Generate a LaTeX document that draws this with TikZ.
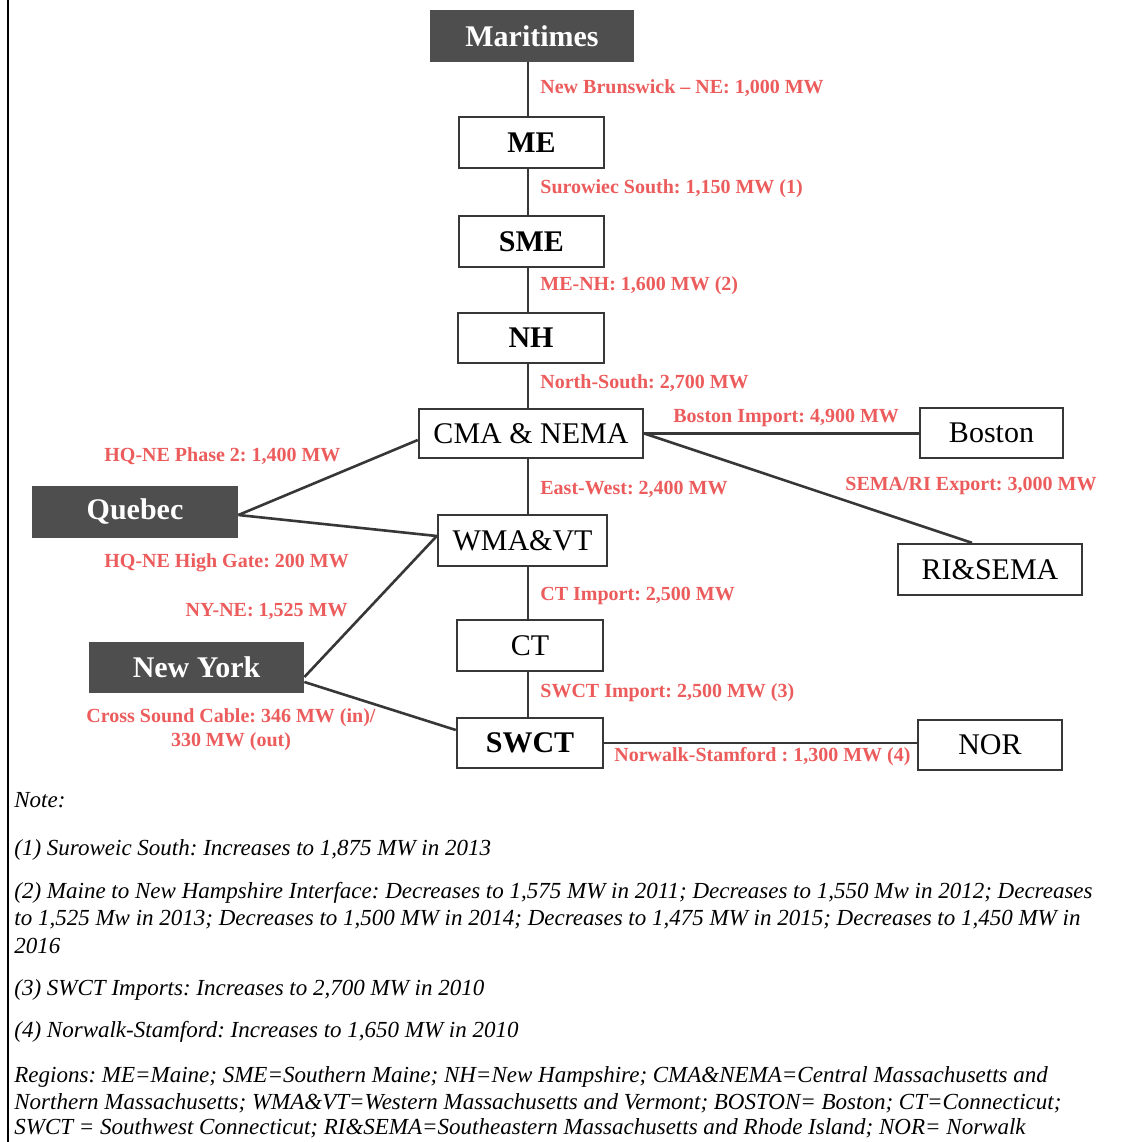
\documentclass[tikz,border=0pt]{standalone}
\usepackage{fontspec}
\setmainfont{Liberation Serif}
\usetikzlibrary{calc}
\frenchspacing
\definecolor{darkbox}{RGB}{78,78,78}
\definecolor{linecol}{RGB}{55,55,55}
\definecolor{lblred}{RGB}{236,92,92}
\tikzset{
  regbox/.style={draw=linecol, line width=1.2pt, fill=white, inner sep=0pt, text=black,
    font=\fontsize{15}{18}\selectfont},
  darkregion/.style={fill=darkbox, draw=none, inner sep=0pt, text=white,
    font=\fontsize{15}{18}\selectfont\bfseries},
  lbl/.style={text=lblred, inner sep=0pt, font=\fontsize{10}{12}\selectfont\bfseries},
  link/.style={draw=linecol, line width=1.3pt},
  notetxt/.style={anchor=west, inner sep=0pt, text=black, font=\fontsize{11.5}{13}\selectfont\itshape}
}
\begin{document}
\begin{tikzpicture}[x=0.5pt,y=-0.5pt]
\useasboundingbox (0,0) rectangle (1123,1142);
\fill[white] (0,0) rectangle (1123,1142);
\draw[line width=0.8pt, black] (8,0) -- (8,1142);

\coordinate (spine) at (528,0);

% regions
\node[darkregion, minimum width=102pt, minimum height=26pt] (mar) at (532,36) {Maritimes};
\node[regbox, minimum width=72.5pt, minimum height=25.5pt] (me) at (531.5,142.5) {\bfseries ME};
\node[regbox, minimum width=72.5pt, minimum height=25.5pt] (sme) at (531.5,241.5) {\bfseries SME};
\node[regbox, minimum width=73pt, minimum height=25pt] (nh) at (531,338) {\bfseries NH};
\node[regbox, minimum width=112pt, minimum height=24.5pt] (cma) at (531,433.5) {CMA \& NEMA};
\node[regbox, minimum width=84.5pt, minimum height=25.5pt] (wma) at (522.5,540.5) {WMA\&VT};
\node[regbox, minimum width=73pt, minimum height=25.5pt] (ct) at (530,645.5) {CT};
\node[regbox, minimum width=73pt, minimum height=25pt] (swct) at (530,743) {\bfseries SWCT};
\node[regbox, minimum width=71.5pt, minimum height=25pt] (bos) at (991.5,433) {Boston};
\node[regbox, minimum width=92pt, minimum height=25.5pt] (rise) at (990,569.5) {RI\&SEMA};
\node[regbox, minimum width=72pt, minimum height=25pt] (nor) at (990,745) {NOR};
\node[darkregion, minimum width=103pt, minimum height=26pt] (qc) at (135,512) {Quebec};
\node[darkregion, minimum width=107.5pt, minimum height=25.5pt] (ny) at (196.5,667.5) {New York};

% vertical spine
\draw[link] (mar.south -| spine) -- (me.north -| spine);
\draw[link] (me.south -| spine) -- (sme.north -| spine);
\draw[link] (sme.south -| spine) -- (nh.north -| spine);
\draw[link] (nh.south -| spine) -- (cma.north -| spine);
\draw[link] (cma.south -| spine) -- (wma.north -| spine);
\draw[link] (wma.south -| spine) -- (ct.north -| spine);
\draw[link] (ct.south -| spine) -- (swct.north -| spine);

% other links
\draw[link] (cma.east) -- (cma.east -| bos.west);
\draw[link] (cma.east) -- ($(rise.north)+(-18,0)$);
\draw[link] (swct.east) -- (swct.east -| nor.west);
\draw[link] ($(qc.east)+(0,3)$) -- ($(cma.west)+(0,6.5)$);
\draw[link] ($(qc.east)+(0,3)$) -- ($(wma.west)+(0,-4.5)$);
\draw[link] ($(ny.east)+(0,9.5)$) -- ($(wma.west)+(0,-4.5)$);
\draw[link] ($(ny.east)+(0,14.5)$) -- ($(swct.west)+(0,-13)$);

% labels
\node[lbl, anchor=west] (l1) at (540,88) {New Brunswick -- NE: 1,000 MW};
\node[lbl, anchor=west] (l2) at (540,189) {Surowiec South: 1,150 MW (1)};
\node[lbl, anchor=west] (l3) at (540,286) {ME-NH: 1,600 MW (2)};
\node[lbl, anchor=west] (l4) at (540,383) {North-South: 2,700 MW};
\node[lbl, anchor=west] (l5) at (673,418) {Boston Import: 4,900 MW};
\node[lbl, anchor=west] (l6) at (845,486) {SEMA/RI Export: 3,000 MW};
\node[lbl, anchor=west] (l7) at (540,489) {East-West: 2,400 MW};
\node[lbl, anchor=west] (l8) at (540,596) {CT Import: 2,500 MW};
\node[lbl, anchor=west] (l9) at (540,693) {SWCT Import: 2,500 MW (3)};
\node[lbl, anchor=west] (l10) at (614,757) {Norwalk-Stamford : 1,300 MW (4)};
\node[lbl, anchor=west] (l11) at (104,456) {HQ-NE Phase 2: 1,400 MW};
\node[lbl, anchor=west] (l12) at (104,563) {HQ-NE High Gate: 200 MW};
\node[lbl, anchor=east] (l13) at (348,611) {NY-NE: 1,525 MW};
\node[lbl, align=center] (l14) at (231,730) {Cross Sound Cable: 346 MW (in)/\\330 MW (out)};

% notes
\node[notetxt] (n0) at (14,800) {Note:};
\node[notetxt] (n1) at (14,850) {(1) Suroweic South: Increases to 1,875 MW in 2013};
\node[notetxt] (n2a) at (14,893) {(2) Maine to New Hampshire Interface: Decreases to 1,575 MW in 2011; Decreases to 1,550 Mw in 2012; Decreases};
\node[notetxt] (n2b) at (14,920) {to 1,525 Mw in 2013; Decreases to 1,500 MW in 2014; Decreases to 1,475 MW in 2015; Decreases to 1,450 MW in};
\node[notetxt] (n2c) at (14,946) {2016};
\node[notetxt] (n3) at (14,990) {(3) SWCT Imports: Increases to 2,700 MW in 2010};
\node[notetxt] (n4) at (14,1032) {(4) Norwalk-Stamford: Increases to 1,650 MW in 2010};
\node[notetxt] (r1) at (14,1077) {Regions: ME=Maine; SME=Southern Maine; NH=New Hampshire; CMA\&NEMA=Central Massachusetts and};
\node[notetxt] (r2) at (14,1103) {Northern Massachusetts; WMA\&VT=Western Massachusetts and Vermont; BOSTON= Boston; CT=Connecticut;};
\node[notetxt] (r3) at (14,1128) {SWCT = Southwest Connecticut; RI\&SEMA=Southeastern Massachusetts and Rhode Island; NOR= Norwalk};
\end{tikzpicture}
\end{document}
